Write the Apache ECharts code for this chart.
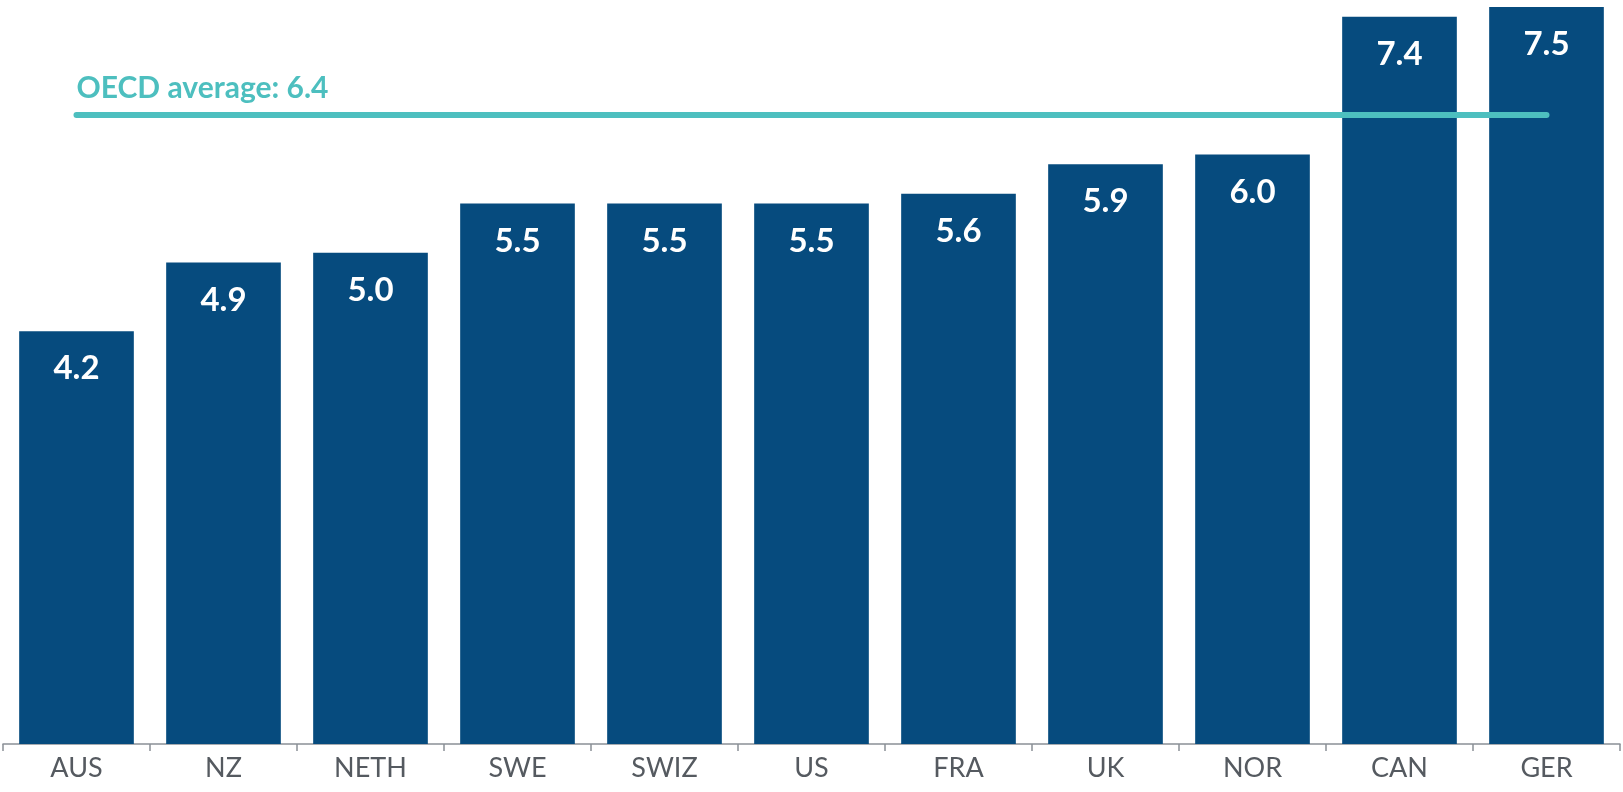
<!DOCTYPE html>
<html>
<head>
<meta charset="utf-8">
<script src="https://cdn.jsdelivr.net/npm/echarts@6/dist/echarts.min.js"></script>
<style>
  html, body { margin: 0; padding: 0; background: #fff; }
  #chart { width: 1623px; height: 792px; }
</style>
</head>
<body>
<div id="chart"></div>
<script>
// countries along the x axis
const countries = ['AUS', 'NZ', 'NETH', 'SWE', 'SWIZ', 'US', 'FRA', 'UK', 'NOR', 'CAN', 'GER']
const values = [4.2, 4.9, 5.0, 5.5, 5.5, 5.5, 5.6, 5.9, 6.0, 7.4, 7.5]
const oecdAverage = 6.4

const chart = echarts.init(document.getElementById('chart'))
chart.setOption({
  animation: false,
  textStyle: { fontFamily: 'Lato' },
  grid: {
    top: 7,
    left: 3,
    right: 3,
    bottom: 48,
    containLabel: false
  },
  xAxis: {
    type: 'category',
    data: countries,
    axisLine: { lineStyle: { color: '#8a9096', width: 1.5 } },
    axisTick: { show: true, length: 7, lineStyle: { color: '#8a9096', width: 1.5 } },
    axisLabel: {
      color: '#555a60',
      fontSize: 27,
      margin: 11,
      fontFamily: 'Lato'
    }
  },
  yAxis: {
    type: 'value',
    min: 0,
    max: 7.5,
    show: false,
    splitLine: { show: false }
  },
  series: [{
    type: 'bar',
    data: values,
    barCategoryGap: '22%',
    itemStyle: { color: '#064b7e' },
    label: {
      show: true,
      position: 'insideTop',
      distance: 21,
      color: '#fff',
      fontSize: 33,
      fontWeight: 'bold',
      fontFamily: 'Lato',
      formatter: p => p.value.toFixed(1)
    },
    markLine: {
      silent: true,
      symbol: 'none',
      lineStyle: { color: '#4dbfbf', width: 6, type: 'solid', cap: 'round' },
      label: {
        show: true,
        position: 'insideStartTop',
        formatter: 'OECD average: ' + oecdAverage,
        color: '#4dbfbf',
        fontSize: 30,
        fontWeight: 'bold',
        fontFamily: 'Lato',
        distance: [0, 12]
      },
      data: [[
        { xAxis: 'AUS', yAxis: oecdAverage },
        { xAxis: 'GER', yAxis: oecdAverage }
      ]]
    }
  }]
})
</script>
</body>
</html>
